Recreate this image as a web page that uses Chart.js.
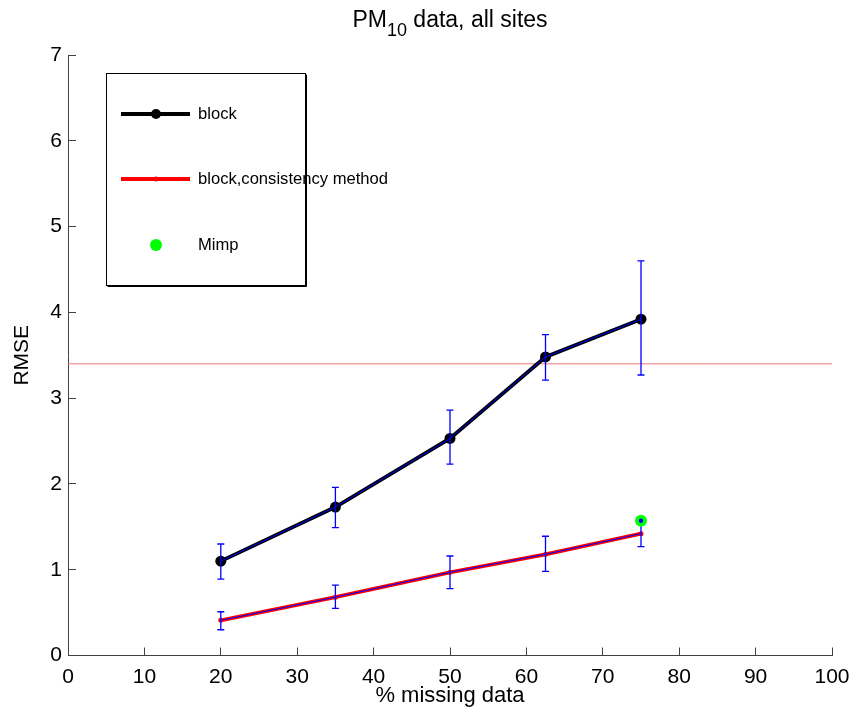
<!DOCTYPE html>
<html>
<head>
<meta charset="utf-8">
<script src="https://cdn.jsdelivr.net/npm/chart.js@4"></script>
<style>
  body { margin: 0; background: #fff; }
  canvas { display: block; }
</style>
</head>
<body>
<canvas id="chart" width="855" height="719"></canvas>
<script>
// % missing data on the x axis
const missingPct = [20, 35, 50, 62.5, 75];
// block method
const blockRmse = [1.10, 1.73, 2.53, 3.48, 3.92];
const blockLow  = [0.89, 1.49, 2.23, 3.21, 3.27];
const blockHigh = [1.30, 1.96, 2.86, 3.74, 4.60];
// block, consistency method
const consRmse = [0.41, 0.68, 0.97, 1.18, 1.42];
const consLow  = [0.30, 0.55, 0.78, 0.98, 1.27];
const consHigh = [0.51, 0.82, 1.16, 1.39, 1.57];
// Mimp
const mimpX = [75];
const mimpY = [1.57];
// horizontal reference level
const refLevel = 3.40;
const xTicks = [0, 10, 20, 30, 40, 50, 60, 70, 80, 90, 100];
const yTicks = [0, 1, 2, 3, 4, 5, 6, 7];

const FONT = '"Liberation Sans", Arial, Helvetica, sans-serif';

function pts(xs, ys) {
  return xs.map((x, i) => ({ x: x, y: ys[i] }));
}

// blue error bars, drawn just before the Mimp marker so it sits on top
const errorBars = {
  id: 'errorBars',
  beforeDatasetDraw(chart, args) {
    if (chart.data.datasets[args.index].label !== 'Mimp') return;
    const ctx = chart.ctx, xs = chart.scales.x, ys = chart.scales.y;
    ctx.save();
    ctx.strokeStyle = '#0000ff';
    ctx.lineWidth = 1.3;
    [[blockLow, blockHigh], [consLow, consHigh]].forEach(([lo, hi]) => {
      missingPct.forEach((m, i) => {
        const px = xs.getPixelForValue(m);
        const y1 = ys.getPixelForValue(lo[i]), y2 = ys.getPixelForValue(hi[i]);
        ctx.beginPath();
        ctx.moveTo(px, y1); ctx.lineTo(px, y2);
        ctx.moveTo(px - 3.5, y1); ctx.lineTo(px + 3.5, y1);
        ctx.moveTo(px - 3.5, y2); ctx.lineTo(px + 3.5, y2);
        ctx.stroke();
      });
    });
    ctx.restore();
  }
};

// title with subscript + boxed legend
const decorations = {
  id: 'decorations',
  afterDraw(chart) {
    const ctx = chart.ctx;
    const cx = (chart.chartArea.left + chart.chartArea.right) / 2;
    ctx.save();
    ctx.fillStyle = '#000';
    ctx.textBaseline = 'alphabetic';
    const big = '23px ' + FONT, small = '18px ' + FONT;
    ctx.font = big;
    const wPM = ctx.measureText('PM').width;
    const wRest = ctx.measureText(' data, all sites').width;
    ctx.font = small;
    const w10 = ctx.measureText('10').width;
    let x = cx - (wPM + w10 + wRest) / 2;
    ctx.textAlign = 'left';
    ctx.font = big; ctx.fillText('PM', x, 27); x += wPM;
    ctx.font = small; ctx.fillText('10', x, 36); x += w10;
    ctx.font = big; ctx.fillText(' data, all sites', x, 27);

    // legend box
    const bx = 106, by = 73, bw = 199, bh = 212;
    ctx.fillStyle = '#fff';
    ctx.fillRect(bx, by, bw, bh);
    ctx.strokeStyle = '#000';
    ctx.lineWidth = 1;
    ctx.strokeRect(bx + 0.5, by + 0.5, bw, bh);
    ctx.beginPath();
    ctx.moveTo(bx + 1.5, by + bh + 1.5); ctx.lineTo(bx + bw + 1.5, by + bh + 1.5); ctx.lineTo(bx + bw + 1.5, by + 1.5);
    ctx.stroke();

    const rows = [
      { label: 'block', y: 114, line: '#000', r: 5, fill: '#000' },
      { label: 'block,consistency method', y: 179, line: '#ff0000', r: 2.5, fill: '#ff0000' },
      { label: 'Mimp', y: 245, line: null, r: 6, fill: '#00ff00' }
    ];
    rows.forEach(row => {
      if (row.line) {
        ctx.strokeStyle = row.line;
        ctx.lineWidth = 3.8;
        ctx.beginPath();
        ctx.moveTo(121, row.y); ctx.lineTo(190, row.y);
        ctx.stroke();
      }
      ctx.fillStyle = row.fill;
      ctx.beginPath();
      ctx.arc(156, row.y, row.r, 0, Math.PI * 2);
      ctx.fill();
      ctx.fillStyle = '#000';
      ctx.font = '16.6px ' + FONT;
      ctx.textBaseline = 'middle';
      ctx.fillText(row.label, 198, row.y);
    });
    ctx.restore();
  }
};

const axisColor = '#404040';

new Chart(document.getElementById('chart'), {
  type: 'line',
  data: {
    datasets: [
      {
        label: 'ref', data: [{ x: 0, y: refLevel }, { x: 100, y: refLevel }],
        borderColor: 'rgb(240,115,115)', borderWidth: 1, pointRadius: 0, order: 10
      },
      {
        label: 'block', data: pts(missingPct, blockRmse),
        borderColor: '#000', borderWidth: 3.8, pointRadius: 5.5,
        pointBackgroundColor: '#000', pointBorderWidth: 0, order: 6
      },
      {
        label: 'block overlay', data: pts(missingPct, blockRmse),
        borderColor: '#0000ff', borderWidth: 1, pointRadius: 0, order: 5
      },
      {
        label: 'block,consistency method', data: pts(missingPct, consRmse),
        borderColor: '#ff0000', borderWidth: 3.8, pointRadius: 2.5,
        pointBackgroundColor: '#ff0000', pointBorderWidth: 0, order: 4
      },
      {
        label: 'consistency overlay', data: pts(missingPct, consRmse),
        borderColor: '#0000ff', borderWidth: 1, pointRadius: 0, order: 3
      },
      {
        label: 'Mimp', data: pts(mimpX, mimpY), showLine: false,
        pointRadius: 6, pointBackgroundColor: '#00ff00', pointBorderWidth: 0, order: 2
      },
      {
        label: 'Mimp core', data: pts(mimpX, mimpY), showLine: false,
        pointRadius: 2.2, pointBackgroundColor: '#0000ff', pointBorderWidth: 0, order: 1
      }
    ]
  },
  options: {
    responsive: false,
    animation: false,
    layout: { padding: { top: 55, right: 23, left: 0, bottom: 0 } },
    plugins: { legend: { display: false }, tooltip: { enabled: false } },
    scales: {
      x: {
        type: 'linear', min: 0, max: 100,
        afterFit: s => { s.height = 63.5; s.paddingLeft = 0; s.paddingRight = 0; },
        afterBuildTicks: s => { s.ticks = xTicks.map(v => ({ value: v })); },
        grid: { drawOnChartArea: false, tickLength: -8, color: axisColor },
        border: { color: axisColor, width: 1 },
        ticks: { color: '#000', padding: 17, font: { family: FONT, size: 21 }, maxRotation: 0 },
        title: { display: true, text: '% missing data', color: '#000', font: { family: FONT, size: 22 }, padding: { top: 0, bottom: 10 } }
      },
      y: {
        type: 'linear', min: 0, max: 7,
        afterFit: s => { s.width = 68; s.paddingTop = 0; s.paddingBottom = 0; },
        afterBuildTicks: s => { s.ticks = yTicks.map(v => ({ value: v })); },
        grid: { drawOnChartArea: false, tickLength: -8, color: axisColor },
        border: { color: axisColor, width: 1 },
        ticks: { color: '#000', padding: 14, font: { family: FONT, size: 21 } },
        title: { display: true, text: 'RMSE', color: '#000', font: { family: FONT, size: 21 }, padding: { top: 10, bottom: 0 } }
      }
    }
  },
  plugins: [errorBars, decorations]
});
</script>
</body>
</html>
